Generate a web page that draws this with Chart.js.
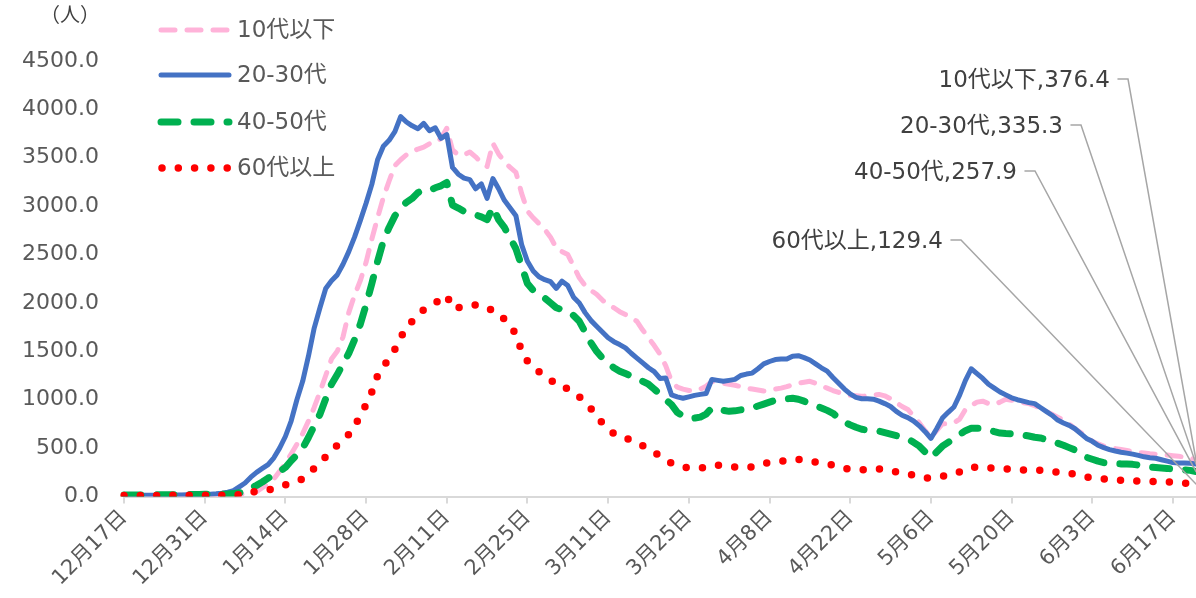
<!DOCTYPE html>
<html>
<head>
<meta charset="utf-8">
<script src="https://cdn.jsdelivr.net/npm/chart.js@4.4.1/dist/chart.umd.min.js"></script>
<style>
  html, body { margin: 0; padding: 0; background: #ffffff; }
  #wrap { width: 1196px; height: 598px; }
</style>
</head>
<body>
<div id="wrap"><canvas id="c" width="1196" height="598"></canvas></div>
<script>
// Daily values from 12/17 to 6/21 (187 days), people per day by age group
const seriesNames = ['10代以下', '20-30代', '40-50代', '60代以上'];

const under10s = [
  10,10,10,11,11,11,12,12,12,13,
  13,14,14,15,15,16,17,18,19,20,
  21,23,25,50,90,130,180,260,340,440,
  540,650,780,920,1080,1250,1420,1500,1650,1900,
  2080,2230,2420,2660,2880,3090,3260,3420,3480,3530,
  3565,3590,3610,3645,3650,3700,3805,3580,3530,3530,
  3560,3510,3450,3410,3650,3540,3460,3400,3350,3130,
  2950,2880,2820,2760,2680,2570,2530,2500,2380,2260,
  2180,2130,2090,2030,1980,1950,1910,1880,1850,1810,
  1720,1640,1560,1470,1350,1190,1130,1110,1095,1090,
  1110,1140,1190,1180,1170,1160,1150,1135,1120,1110,
  1100,1090,1100,1110,1120,1135,1155,1170,1180,1190,
  1170,1145,1120,1095,1075,1055,1045,1040,1035,1040,
  1050,1055,1040,1010,970,930,900,830,760,680,
  610,680,750,755,760,800,900,940,975,985,
  960,950,975,1005,995,985,970,960,940,910,
  880,850,820,790,750,700,660,620,570,545,
  520,505,495,485,475,465,455,450,442,437,
  432,428,422,415,408,398,376.4
];

const age20to30 = [
  11,11,12,12,13,13,14,14,15,16,
  16,17,18,19,21,24,28,35,45,60,
  100,140,200,250,290,330,400,500,620,780,
  1000,1190,1450,1740,1950,2150,2230,2290,2400,2530,
  2680,2850,3030,3225,3480,3620,3680,3770,3925,3870,
  3830,3800,3855,3780,3810,3700,3740,3400,3330,3290,
  3275,3180,3230,3080,3285,3180,3060,2980,2900,2600,
  2430,2330,2270,2240,2220,2150,2225,2180,2060,2000,
  1900,1820,1760,1700,1640,1600,1570,1535,1480,1430,
  1380,1330,1290,1220,1225,1050,1030,1015,1030,1045,
  1055,1065,1210,1200,1190,1200,1210,1250,1265,1275,
  1320,1370,1395,1415,1420,1420,1450,1455,1435,1410,
  1370,1330,1295,1230,1170,1110,1060,1025,1010,1010,
  1005,985,960,930,880,840,815,780,730,670,
  600,700,810,870,925,1050,1200,1320,1270,1220,
  1160,1120,1080,1050,1020,1000,985,970,960,920,
  880,840,790,760,735,700,650,600,570,530,
  505,485,470,458,448,438,425,410,400,395,
  380,365,350,346,345,343,335.3
];

const age40to50 = [
  15,15,16,16,17,17,18,18,19,19,
  20,20,21,21,22,22,23,24,26,30,
  38,50,85,115,150,190,225,260,300,370,
  430,500,610,730,850,1010,1160,1260,1370,1480,
  1620,1780,1980,2200,2430,2640,2780,2900,2980,3040,
  3080,3140,3170,3160,3190,3210,3245,3010,2980,2945,
  2920,2910,2890,2860,2990,2860,2780,2670,2560,2380,
  2200,2130,2090,2050,2000,1950,1930,1915,1870,1810,
  1700,1590,1500,1430,1380,1330,1295,1270,1245,1225,
  1190,1160,1110,1055,1000,950,870,830,810,810,
  820,850,915,905,890,880,885,895,900,915,
  935,955,975,995,1005,1010,1015,1005,985,960,
  935,915,890,860,810,770,740,715,695,685,
  680,675,660,645,630,615,595,560,520,460,
  400,460,520,560,600,640,680,705,705,705,
  690,670,655,650,648,645,635,625,612,605,
  590,570,550,530,505,480,440,405,385,365,
  350,345,340,337,335,332,325,315,305,300,
  295,290,285,280,276,270,257.9
];

const over60s = [
  10,10,10,10,11,11,11,11,12,12,
  12,12,13,13,13,14,14,14,15,15,
  18,25,40,55,62,70,80,100,120,140,
  160,180,230,290,350,410,470,530,590,640,
  730,830,950,1080,1250,1340,1430,1520,1640,1750,
  1810,1880,1930,1960,2000,2040,2080,1945,1950,1965,
  1975,1980,1975,1950,1920,1895,1830,1760,1680,1500,
  1400,1330,1290,1255,1210,1150,1130,1115,1080,1030,
  975,910,830,760,700,650,620,600,585,560,
  525,490,455,420,380,345,325,305,295,295,
  295,300,310,325,318,310,305,305,305,305,
  320,340,350,355,365,372,378,385,372,360,
  355,345,335,325,305,290,282,278,275,278,
  282,285,275,265,255,245,235,220,205,190,
  195,205,210,220,235,255,280,305,300,298,
  295,292,288,285,282,278,275,275,275,272,
  265,258,252,246,240,228,214,200,194,187,
  180,176,172,168,165,162,160,158,155,153,
  152,150,147,143,139,134,129.4
];

// Date categories: one per day starting 12月17日
const firstDay = new Date(2021, 11, 17);
const dayCount = under10s.length;
const dayLabels = [];
for (let i = 0; i < dayCount; i++) {
  const d = new Date(firstDay.getTime());
  d.setDate(d.getDate() + i);
  dayLabels.push((d.getMonth() + 1) + '月' + d.getDate() + '日');
}
const tickEvery = 14;
const yTicks = [0, 500, 1000, 1500, 2000, 2500, 3000, 3500, 4000, 4500];

const FONT = "'DejaVu Sans', 'Noto Sans CJK JP', sans-serif";
const GREY = '#595959';

const styles = [
  { color: '#FFB3D9', width: 5, dash: [14, 12] },
  { color: '#4472C4', width: 5, dash: [] },
  { color: '#00B050', width: 7, dash: [17, 16] },
  { color: '#FF0000', width: 7.5, dash: [0, 16.3] }
];
const values = [under10s, age20to30, age40to50, over60s];

const datasets = values.map((vals, i) => ({
  label: seriesNames[i],
  data: vals,
  borderColor: styles[i].color,
  backgroundColor: styles[i].color,
  borderWidth: styles[i].width,
  borderDash: styles[i].dash,
  borderCapStyle: 'round',
  borderJoinStyle: 'round',
  pointRadius: 0,
  tension: 0,
  fill: false,
  order: 4 - i
}));

// Legend, unit label and end-of-line value callouts
const annotate = {
  id: 'annotate',
  afterDraw(chart) {
    const ctx = chart.ctx;
    const xs = chart.scales.x, ys = chart.scales.y;
    ctx.save();

    ctx.fillStyle = '#404040';
    ctx.font = '20px ' + FONT;
    ctx.textAlign = 'center';
    ctx.textBaseline = 'middle';
    ctx.fillText('（人）', 70, 17);

    // legend
    const rows = [30, 75, 122, 168];
    rows.forEach((y, i) => {
      const s = styles[i];
      ctx.beginPath();
      ctx.strokeStyle = s.color;
      ctx.lineWidth = s.width;
      ctx.lineCap = 'round';
      ctx.setLineDash(s.dash);
      const x0 = i === 3 ? 162 : 161;
      ctx.moveTo(x0, y);
      ctx.lineTo(i === 3 ? 228 : 229, y);
      ctx.stroke();
      ctx.setLineDash([]);
      ctx.fillStyle = GREY;
      ctx.font = '23px ' + FONT;
      ctx.textAlign = 'left';
      ctx.textBaseline = 'middle';
      ctx.fillText(seriesNames[i], 237, y + 1);
    });

    // callouts with leader lines to the last day
    const callouts = [
      { right: 1110, y: 81 },
      { right: 1063, y: 127 },
      { right: 1017, y: 173 },
      { right: 943, y: 242 }
    ];
    const last = dayCount - 1;
    const px = xs.getPixelForValue(last);
    callouts.forEach((c, i) => {
      const v = values[i][last];
      ctx.fillStyle = '#404040';
      ctx.font = '23px ' + FONT;
      ctx.textAlign = 'right';
      ctx.textBaseline = 'middle';
      ctx.fillText(seriesNames[i] + ',' + v.toFixed(1), c.right, c.y);
      ctx.beginPath();
      ctx.strokeStyle = '#A6A6A6';
      ctx.lineWidth = 1.5;
      ctx.moveTo(c.right + 8, c.y - 2);
      ctx.lineTo(c.right + 18, c.y - 2);
      ctx.lineTo(px, ys.getPixelForValue(v));
      ctx.stroke();
    });
    ctx.restore();
  }
};

new Chart(document.getElementById('c'), {
  type: 'line',
  data: { labels: dayLabels, datasets },
  options: {
    responsive: false,
    animation: false,
    devicePixelRatio: 1,
    layout: { padding: { top: 61, right: 0, bottom: 0, left: 0 } },
    plugins: { legend: { display: false }, tooltip: { enabled: false } },
    scales: {
      x: {
        type: 'category',
        grid: { display: true, drawOnChartArea: false, drawTicks: true, tickLength: 7, color: '#D9D9D9', lineWidth: 2 },
        border: { display: true, color: '#D9D9D9', width: 2 },
        ticks: {
          autoSkip: false, minRotation: 45, maxRotation: 45,
          color: GREY, font: { size: 21, family: FONT }, padding: 2,
          callback: (v, i) => (i % tickEvery === 0 ? dayLabels[i] : null)
        },
        afterFit: (s) => { s.height = 101.5; }
      },
      y: {
        min: yTicks[0], max: yTicks[yTicks.length - 1],
        afterBuildTicks: (s) => { s.ticks = yTicks.map(v => ({ value: v })); },
        grid: { display: false, drawTicks: false },
        border: { display: false },
        ticks: { color: GREY, font: { size: 22, family: FONT }, padding: 25, callback: (v) => Number(v).toFixed(1) },
        afterFit: (s) => { s.width = 124; }
      }
    }
  },
  plugins: [annotate]
});
</script>
</body>
</html>
